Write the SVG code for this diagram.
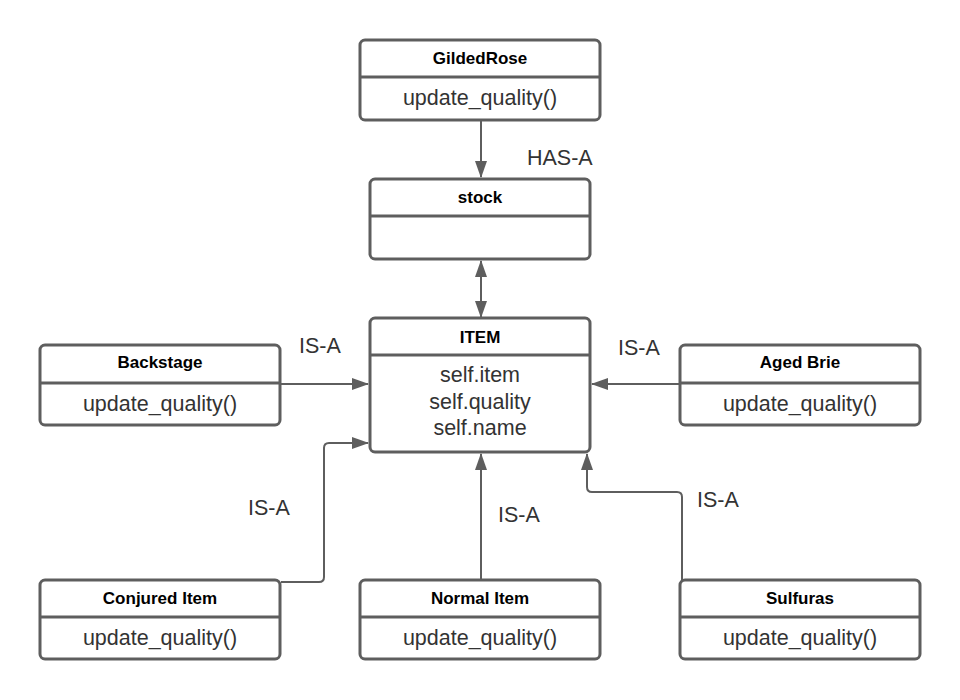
<svg xmlns="http://www.w3.org/2000/svg" width="960" height="700" viewBox="0 0 960 700">
<defs>
<marker id="ah" viewBox="0 0 17 12" refX="16" refY="6" markerWidth="17" markerHeight="12" markerUnits="userSpaceOnUse" orient="auto-start-reverse">
<path d="M0,0 L17,6 L0,12 Z" fill="#5e5e5e"/>
</marker>
<style>
.box{fill:#fff;stroke:#5e5e5e;stroke-width:3}
.div{stroke:#5e5e5e;stroke-width:3}
.t{font-family:"Liberation Sans",Arial,sans-serif;font-weight:bold;font-size:17px;fill:#000;text-anchor:middle;dominant-baseline:central}
.b{font-family:"Liberation Sans",Arial,sans-serif;font-size:21.5px;fill:#333;text-anchor:middle;dominant-baseline:central}
.c{fill:none;stroke:#5e5e5e;stroke-width:2}
.l{font-family:"Liberation Sans",Arial,sans-serif;font-size:21.5px;fill:#333;dominant-baseline:central}
</style>
</defs>
<rect width="960" height="700" fill="#fff"/>
<g id="connectors">
<path class="c" d="M481,121 L481,177" marker-end="url(#ah)"/>
<path class="c" d="M481,261 L481,317" marker-start="url(#ah)" marker-end="url(#ah)"/>
<path class="c" d="M281,384 L368,384" marker-end="url(#ah)"/>
<path class="c" d="M679,384 L592,384" marker-end="url(#ah)"/>
<path class="c" d="M281,582 L319,582 Q324,582 324,577 L324,448 Q324,443 329,443 L368,443" marker-end="url(#ah)"/>
<path class="c" d="M481,580 L481,454" marker-end="url(#ah)"/>
<path class="c" d="M682,580 L682,497 Q682,492 677,492 L592,492 Q587,492 587,487 L587,454" marker-end="url(#ah)"/>
<text class="l" x="527" y="158">HAS-A</text>
<text class="l" x="299" y="346">IS-A</text>
<text class="l" x="618" y="348">IS-A</text>
<text class="l" x="248" y="508">IS-A</text>
<text class="l" x="498" y="515">IS-A</text>
<text class="l" x="697" y="500">IS-A</text>
</g>
<g id="gildedrose">
<rect class="box" x="360" y="40" width="240" height="80" rx="5"/>
<line class="div" x1="360" y1="77" x2="600" y2="77"/>
<text class="t" x="480" y="58">GildedRose</text>
<text class="b" x="480" y="98">update_quality()</text>
</g>
<g id="stock">
<rect class="box" x="370" y="179" width="220" height="80" rx="5"/>
<line class="div" x1="370" y1="216" x2="590" y2="216"/>
<text class="t" x="480" y="197">stock</text>
</g>
<g id="item">
<rect class="box" x="370" y="318" width="220" height="134" rx="5"/>
<line class="div" x1="370" y1="355" x2="590" y2="355"/>
<text class="t" x="480" y="337">ITEM</text>
<text class="b" x="480" y="375">self.item</text>
<text class="b" x="480" y="402">self.quality</text>
<text class="b" x="480" y="428">self.name</text>
</g>
<g id="backstage">
<rect class="box" x="40" y="345" width="240" height="80" rx="5"/>
<line class="div" x1="40" y1="383" x2="280" y2="383"/>
<text class="t" x="160" y="362">Backstage</text>
<text class="b" x="160" y="404">update_quality()</text>
</g>
<g id="agedbrie">
<rect class="box" x="680" y="345" width="240" height="80" rx="5"/>
<line class="div" x1="680" y1="383" x2="920" y2="383"/>
<text class="t" x="800" y="362">Aged Brie</text>
<text class="b" x="800" y="404">update_quality()</text>
</g>
<g id="conjured">
<rect class="box" x="40" y="580" width="240" height="79" rx="5"/>
<line class="div" x1="40" y1="617" x2="280" y2="617"/>
<text class="t" x="160" y="598">Conjured Item</text>
<text class="b" x="160" y="638">update_quality()</text>
</g>
<g id="normal">
<rect class="box" x="360" y="580" width="240" height="79" rx="5"/>
<line class="div" x1="360" y1="617" x2="600" y2="617"/>
<text class="t" x="480" y="598">Normal Item</text>
<text class="b" x="480" y="638">update_quality()</text>
</g>
<g id="sulfuras">
<rect class="box" x="680" y="580" width="240" height="79" rx="5"/>
<line class="div" x1="680" y1="617" x2="920" y2="617"/>
<text class="t" x="800" y="598">Sulfuras</text>
<text class="b" x="800" y="638">update_quality()</text>
</g>
</svg>
